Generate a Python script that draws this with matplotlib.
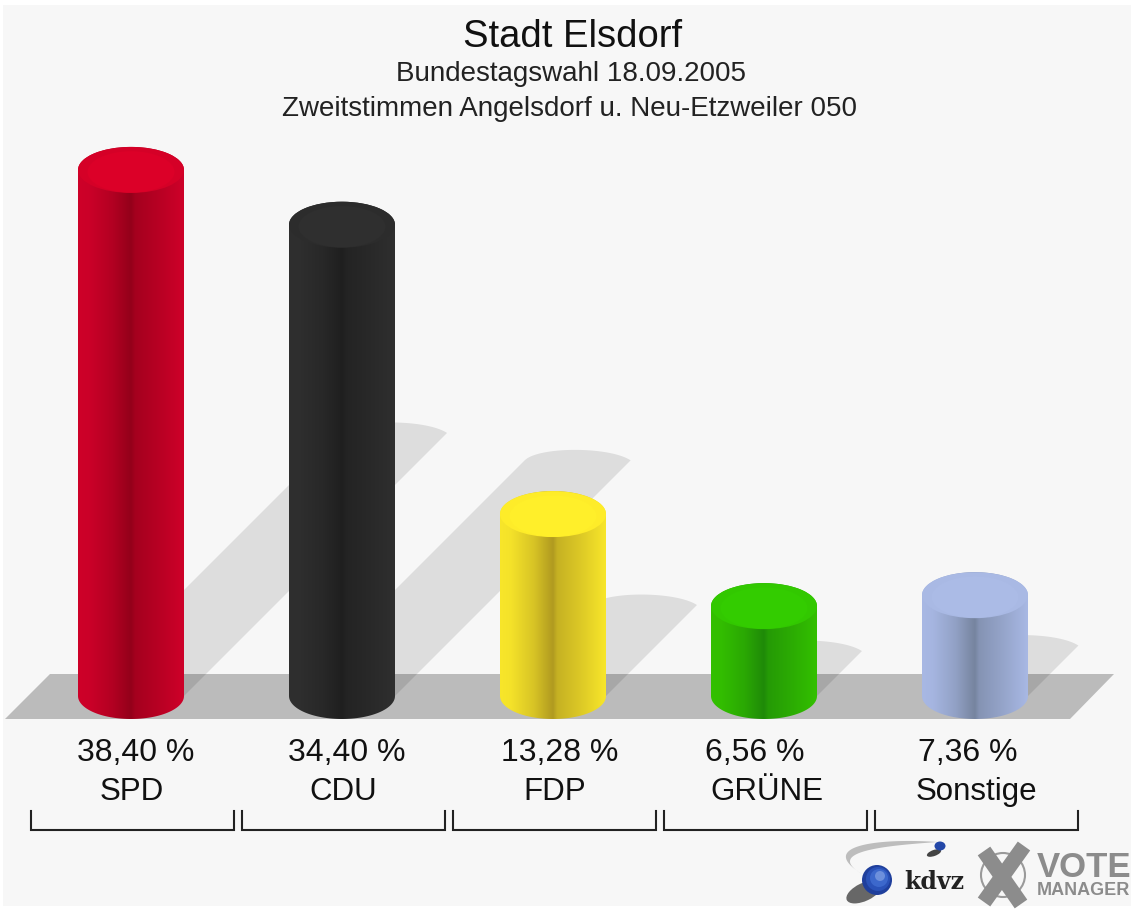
import matplotlib
matplotlib.use("Agg")
import matplotlib.pyplot as plt
import numpy as np
from matplotlib.patches import Ellipse, PathPatch, Polygon, Rectangle, Circle
from matplotlib.path import Path
from matplotlib.transforms import Affine2D, blended_transform_factory

parties = ["SPD", "CDU", "FDP", "GRÜNE", "Sonstige"]
shares = [38.40, 34.40, 13.28, 6.56, 7.36]
share_labels = ["38,40 %", "34,40 %", "13,28 %", "6,56 %", "7,36 %"]
title = "Stadt Elsdorf"
subtitle_1 = "Bundestagswahl 18.09.2005"
subtitle_2 = "Zweitstimmen Angelsdorf u. Neu-Etzweiler 050"

# edge, centre of the body, cap rim, cap middle
edge_cols = ["#ce0029", "#2f2f2f", "#f8e62a", "#33c000", "#a8b8e4"]
dark_cols = ["#93001a", "#1f1f1f", "#b09a20", "#1f8a08", "#76849f"]
rim_cols = ["#d50027", "#2c2c2c", "#feec29", "#32c800", "#a9b9e4"]
cap_cols = ["#dc0028", "#2f2f2f", "#ffef2a", "#33cc00", "#abbbe6"]
label_dx = [5, 5, 7, -9, -7]
name_dx = [1, 1, 1.5, 3, 1.5]

W, H = 1131, 911
X0, STEP = 131.0, 211.0   # pixel of first bar, pixels per category
Y0, PCT = 696.0, 13.7     # pixel of 0 %, pixels per percent
RX, RY = 53.0, 23.0


def bezier(p0, p1, p2, p3, n=40):
    t = np.linspace(0, 1, n)[:, None]
    p0, p1, p2, p3 = [np.array(p, dtype=float) for p in (p0, p1, p2, p3)]
    return (1 - t) ** 3 * p0 + 3 * t * (1 - t) ** 2 * p1 + 3 * t ** 2 * (1 - t) * p2 + t ** 3 * p3


def gradient(edge, dark):
    e = np.array(matplotlib.colors.to_rgb(edge))
    d = np.array(matplotlib.colors.to_rgb(dark))
    pos = [0, 0.1, 0.32, 0.5, 0.54, 0.75, 1]
    mix = [0.0, 0.05, 0.45, 1.0, 0.7, 0.4, 0.0]
    t = np.interp(np.linspace(0, 1, 212), pos, mix)[None, :, None]
    return e * (1 - t) + d * t


def cylinder_path(x, top):
    rx = RX / STEP
    ry = RY / PCT
    th = np.linspace(np.pi, 2 * np.pi, 60)
    lower = np.column_stack([x + rx * np.cos(th), ry * np.sin(th)])
    upper = np.column_stack([x + rx * np.cos(th[::-1]), top - ry * np.sin(th[::-1])])
    return Path(np.vstack([lower, upper, lower[:1]]), closed=True)


def shadow_poly(x, v):
    # soft join on the left of the cap, sharp corner on the right
    rx = RX / STEP
    left = x + 0.5 * v * PCT / STEP - rx
    top = 0.5 * v
    sx, sy = 1 / STEP, 1 / PCT
    arc = bezier((left, top), (left + 14 * sx, top + 14 * sy),
                 (left + 85 * sx, top + 14 * sy), (left + 106 * sx, top))
    return np.vstack([[x - rx, 0], arc, [x + rx, 0]])


fig = plt.figure(figsize=(W / 100, H / 100), dpi=100, facecolor="white")
ax = fig.add_axes([0, 0, 1, 1])
ax.axis("off")
px = Affine2D().scale(1 / W, -1 / H).translate(0, 1) + fig.transFigure
xpx = blended_transform_factory(ax.transData, px)
font = "Liberation Sans"

ax.add_patch(Rectangle((3, 5), 1128, 901, transform=px, color="#f7f7f7", lw=0, zorder=0))
ax.add_patch(Polygon([(5, 719), (50, 674), (1114, 674), (1070, 719)], transform=px,
                     color="#bbbbbb", lw=0, zorder=1))

for i, v in enumerate(shares):
    ax.add_patch(Polygon(shadow_poly(i, v), color="black", alpha=0.1, lw=0, zorder=2))

for i, v in enumerate(shares):
    rx = RX / STEP
    ry = RY / PCT
    im = ax.imshow(gradient(edge_cols[i], dark_cols[i]), aspect="auto", zorder=3 + i,
                   extent=(i - rx, i + rx, -ry, v + ry), interpolation="bilinear")
    im.set_clip_path(PathPatch(cylinder_path(i, v), transform=ax.transData))
    ax.add_patch(Ellipse((i, v), 2 * rx, 2 * ry, color=rim_cols[i], lw=0, zorder=3 + i))
    ax.add_patch(Ellipse((i, v - 2 / PCT), 2 * rx * 0.82, 2 * ry * 0.9, color=cap_cols[i],
                         lw=0, zorder=3 + i))

    ax.text(i + label_dx[i] / STEP, 761, share_labels[i], transform=xpx, ha="center", va="baseline",
            family=font, fontsize=23, color="#111111", zorder=20)
    ax.text(i + name_dx[i] / STEP, 800, parties[i], transform=xpx, ha="center", va="baseline",
            family=font, fontsize=22.5, color="#111111", zorder=20)
    ax.plot([i + 1.5 / STEP - 101.5 / STEP, i + 1.5 / STEP - 101.5 / STEP,
             i + 1.5 / STEP + 101.5 / STEP, i + 1.5 / STEP + 101.5 / STEP],
            [811, 829.5, 829.5, 811], transform=xpx, color="#222222", lw=1.5,
            solid_joinstyle="miter", zorder=20)

ax.text(572.5, 47, title, transform=px, ha="center", va="baseline", family=font, fontsize=27.5,
        color="#111111")
ax.text(571, 81, subtitle_1, transform=px, ha="center", va="baseline", family=font, fontsize=20,
        color="#222222")
ax.text(570, 116, subtitle_2, transform=px, ha="center", va="baseline", family=font, fontsize=20,
        color="#222222")

# kdvz logo
swoosh_top = bezier((938, 842), (880, 838), (815, 845), (862, 874))
swoosh_low = bezier((862, 874), (825, 852), (880, 846), (938, 842))
ax.add_patch(Polygon(np.vstack([swoosh_top, swoosh_low]), transform=px, color="#bdbdbd", lw=0, zorder=5))
ax.add_patch(Ellipse((864, 892), 38, 18, angle=-25, transform=px, color="#2a2a2a", alpha=0.7, lw=0, zorder=5))
for r, c, dx, dy in [(15, "#1f3f9c", 0, 0), (12, "#2a52b8", 1, -1), (9, "#3c68cc", 2, -2), (5, "#6d90dc", 3, -4)]:
    ax.add_patch(Circle((877 + dx, 880 + dy), r, transform=px, color=c, lw=0, zorder=6))
ax.add_patch(Ellipse((934, 853), 15, 6, angle=-20, transform=px, color="#444444", lw=0, zorder=5))
ax.add_patch(Ellipse((940, 846), 11, 9, transform=px, color="#2448a8", lw=0, zorder=6))
ax.text(904, 889, "kdvz", transform=px, ha="left", va="baseline", family="DejaVu Serif",
        fontweight="bold", fontsize=17, color="#222222")

# vote manager logo
ax.add_patch(Circle((1003, 875), 22, transform=px, fc="none", ec="#9a9a9a", lw=1.5, zorder=5))
ax.plot([984, 1021], [851, 904], transform=px, color="#8c8c8c", lw=11, solid_capstyle="butt", zorder=6)
ax.plot([1024, 984], [846, 902], transform=px, color="#8c8c8c", lw=11, solid_capstyle="butt", zorder=6)
ax.text(1037, 877, "VOTE", transform=px, ha="left", va="baseline", family=font, fontweight="bold",
        fontsize=25, color="#8c8c8c")
ax.text(1037, 895, "MANAGER", transform=px, ha="left", va="baseline", family=font, fontweight="bold",
        fontsize=13, color="#8c8c8c")

ax.set_xlim((0 - X0) / STEP, (W - X0) / STEP)
ax.set_ylim((Y0 - H) / PCT, Y0 / PCT)

fig.savefig("out.png", dpi=100, facecolor="white")
